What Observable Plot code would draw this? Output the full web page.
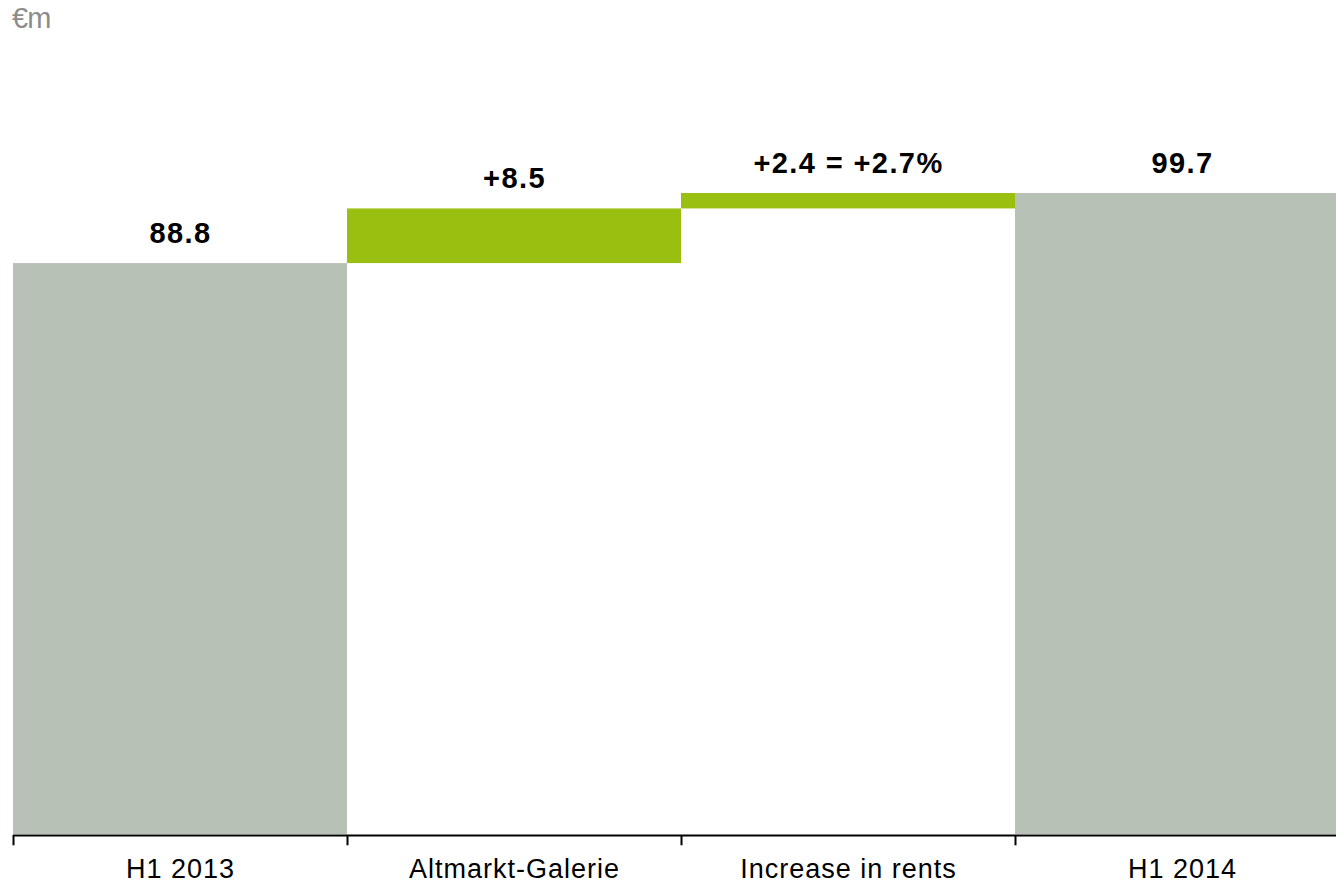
<!DOCTYPE html>
<html>
<head>
<meta charset="utf-8">
<script src="https://cdn.jsdelivr.net/npm/d3@7"></script>
<script src="https://cdn.jsdelivr.net/npm/@observablehq/plot@0.6"></script>
<style>
  html, body { margin: 0; padding: 0; background: #fff; }
  body { width: 1336px; height: 888px; overflow: hidden; position: relative; font-family: "Liberation Sans", Arial, sans-serif; }
  #unit { position: absolute; left: 12px; top: 2px; font-size: 29px; color: #8c8c8c; letter-spacing: -1px; z-index: 2; }
  #chart { position: absolute; left: 0; top: 0; z-index: 1; }
  #chart g[font-weight="bold"] text { letter-spacing: 1.4px; }
  #chart g[font-size="27"] text { letter-spacing: 1px; }
</style>
</head>
<body>
<div id="chart"></div>
<div id="unit">€m</div>
<script>
const categories = ["H1 2013", "Altmarkt-Galerie", "Increase in rents", "H1 2014"];
const changes = [88.8, 8.5, 2.4, 99.7];
const kinds = ["total", "delta", "delta", "total"];
const labels = ["88.8", "+8.5", "+2.4 = +2.7%", "99.7"];

const grey = "#b8c1b5";
const green = "#99c011";

let running = 0;
const data = categories.map((c, i) => {
  let lo, hi;
  if (kinds[i] === "total") { lo = 0; hi = changes[i]; running = changes[i]; }
  else { lo = running; hi = running + changes[i]; running = hi; }
  return { i, category: c, lo, hi, kind: kinds[i], label: labels[i] };
});

const chart = Plot.plot({
  width: 1336,
  height: 888,
  marginTop: 0, marginBottom: 0, marginLeft: 0, marginRight: 0,
  style: { fontFamily: "'Liberation Sans', Arial, sans-serif", background: "transparent" },
  x: { type: "linear", domain: [0, categories.length], range: [13, 1349], axis: null },
  y: { type: "linear", domain: [0, 99.7], range: [834, 193], axis: null },
  marks: [
    Plot.rectY(data, {
      x1: d => d.i, x2: d => d.i + 1, y1: "lo", y2: "hi",
      fill: d => d.kind === "total" ? grey : green
    }),
    Plot.ruleY([0], { x1: 0, x2: categories.length, stroke: "#000", strokeWidth: 2, dy: 1 }),
    Plot.ruleX(d3.range(categories.length), { y1: 0, y2: -1.6, stroke: "#000", strokeWidth: 2, dy: 1 }),
    Plot.text(data, {
      x: d => d.i + 0.5, y: "hi", text: "label",
      fontSize: 29, fontWeight: "bold", fill: "#000", dy: -30
    }),
    Plot.text(data, {
      x: d => d.i + 0.5, y: 0, text: "category",
      fontSize: 27, fill: "#000", dy: 35
    })
  ]
});
document.getElementById("chart").appendChild(chart);
</script>
</body>
</html>
